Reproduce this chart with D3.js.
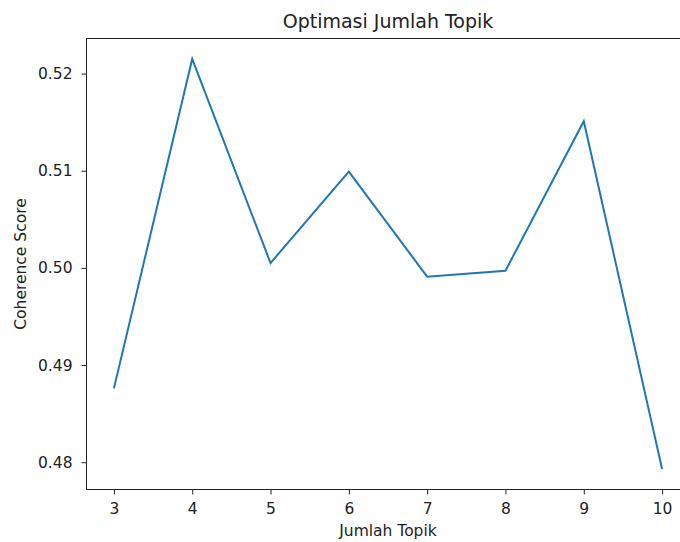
<!DOCTYPE html>
<html>
<head>
<meta charset="utf-8">
<script src="https://cdn.jsdelivr.net/npm/d3@7"></script>
<style>
  body { margin: 0; background: #fff; }
  svg text { font-family: "DejaVu Sans", sans-serif; fill: #222; }
</style>
</head>
<body>
<div id="chart"></div>
<script>
const topics = [3, 4, 5, 6, 7, 8, 9, 10];
const coherence = [0.4876, 0.5215, 0.5005, 0.5099, 0.4991, 0.4997, 0.5151, 0.4793];
const xTicks = [3, 4, 5, 6, 7, 8, 9, 10];
const yTicks = [0.48, 0.49, 0.50, 0.51, 0.52];

const width = 680, height = 542;
const plotLeft = 86.5, plotRight = 689.5, plotTop = 38.5, plotBottom = 489.5;

const svg = d3.select("#chart").append("svg")
    .attr("width", width)
    .attr("height", height);

// matplotlib-like 5% margins
const xMin = d3.min(topics), xMax = d3.max(topics);
const yMin = d3.min(coherence), yMax = d3.max(coherence);
const xPad = (xMax - xMin) * 0.05, yPad = (yMax - yMin) * 0.05;

const x = d3.scaleLinear().domain([xMin - xPad, xMax + xPad]).range([plotLeft, plotRight]);
const y = d3.scaleLinear().domain([yMin - yPad, yMax + yPad]).range([plotBottom, plotTop]);

const xAxis = svg.append("g")
    .attr("transform", `translate(0,${plotBottom})`)
    .call(d3.axisBottom(x).tickValues(xTicks).tickSize(5).tickPadding(8).tickFormat(d3.format("d")));

const yAxis = svg.append("g")
    .attr("transform", `translate(${plotLeft},0)`)
    .call(d3.axisLeft(y).tickValues(yTicks).tickSize(5).tickPadding(9).tickFormat(d3.format(".2f")));

[xAxis, yAxis].forEach(g => {
    g.selectAll(".domain").remove();
    g.selectAll(".tick line").attr("stroke", "#222").attr("stroke-width", 1);
    g.selectAll(".tick text").style("font-size", "15.5px").attr("fill", "#222");
});

// spines (right one falls outside the window)
svg.append("rect")
    .attr("x", plotLeft).attr("y", plotTop)
    .attr("width", plotRight - plotLeft).attr("height", plotBottom - plotTop)
    .attr("fill", "none").attr("stroke", "#222").attr("stroke-width", 1);

const line = d3.line()
    .x((d, i) => x(topics[i]))
    .y(d => y(d));

svg.append("path")
    .datum(coherence)
    .attr("d", line)
    .attr("fill", "none")
    .attr("stroke", "#1f77b4")
    .attr("stroke-width", 2);

svg.append("text")
    .attr("x", (plotLeft + plotRight) / 2)
    .attr("y", 28)
    .attr("text-anchor", "middle")
    .style("font-size", "19px")
    .text("Optimasi Jumlah Topik");

svg.append("text")
    .attr("x", (plotLeft + plotRight) / 2)
    .attr("y", 536)
    .attr("text-anchor", "middle")
    .style("font-size", "15.5px")
    .text("Jumlah Topik");

svg.append("text")
    .attr("transform", `translate(26,${(plotTop + plotBottom) / 2}) rotate(-90)`)
    .attr("text-anchor", "middle")
    .style("font-size", "15.5px")
    .text("Coherence Score");
</script>
</body>
</html>
